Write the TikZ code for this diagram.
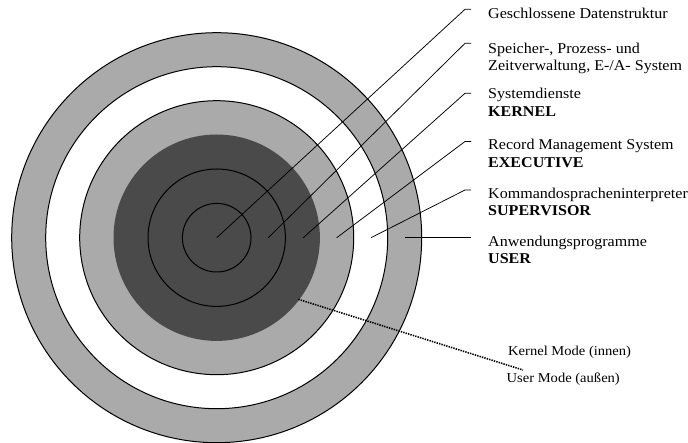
\documentclass[tikz,border=0pt]{standalone}
\usepackage{fontspec}
\setmainfont{Liberation Serif}[FakeStretch=1.07]
\definecolor{ringgray}{RGB}{170,170,170}
\definecolor{coredark}{RGB}{74,74,74}
\begin{document}
\begin{tikzpicture}[x=1pt,y=-1pt,
  ringline/.style={line width=1pt,draw=black},
  leader/.style={line width=0.75pt,draw=black},
  modeline/.style={line width=1.6pt,draw=black,dash pattern=on 1.4pt off 1.1pt},
  lab/.style={anchor=base west,inner sep=0pt,align=left,font=\fontsize{15}{17.5}\selectfont},
  modelab/.style={anchor=base west,inner sep=0pt,font=\fontsize{13.6}{16}\selectfont}]
\useasboundingbox (0,0) rectangle (688,443);
\coordinate (c) at (216.7,237.7);
% rings
\fill[ringgray] (c) circle (205);
\draw[ringline] (c) circle (205);
\fill[white] (c) circle (171);
\draw[ringline] (c) circle (171);
\fill[ringgray] (c) circle (137);
\draw[ringline] (c) circle (137);
\fill[coredark] (c) circle (103.2);
\draw[ringline] (c) circle (68.7);
\draw[ringline] (c) circle (34.3);
% start points of leaders
\coordinate (s1) at (216.7,237.7);
\coordinate (s2) at (268.3,237.7);
\coordinate (s3) at (303.3,237.7);
\coordinate (s4) at (336.7,237.7);
\coordinate (s5) at (371,237.7);
\coordinate (s6) at (405,237.7);
% kinks and ends
\coordinate (k1) at (465,9.3);   \coordinate (e1) at (471,9.3);
\coordinate (k2) at (465,43.3);  \coordinate (e2) at (471,43.3);
\coordinate (k3) at (465,93.3);  \coordinate (e3) at (471,93.3);
\coordinate (k4) at (465,141.5); \coordinate (e4) at (471,141.5);
\coordinate (k5) at (465,190);   \coordinate (e5) at (471,190);
\coordinate (e6) at (471,237.7);
\draw[leader] (s1) -- (k1) -- (e1);
\draw[leader] (s2) -- (k2) -- (e2);
\draw[leader] (s3) -- (k3) -- (e3);
\draw[leader] (s4) -- (k4) -- (e4);
\draw[leader] (s5) -- (k5) -- (e5);
\draw[leader] (s6) -- (e6);
% labels (base anchor = baseline of last line)
\node[lab] (l1) at (488,18.5) {Geschlossene Datenstruktur};
\node[lab] (l2) at (488,70.7) {Speicher-, Prozess- und\\Zeitverwaltung, E-/A- System};
\node[lab] (l3) at (488,116.5) {Systemdienste\\\textbf{KERNEL}};
\node[lab] (l4) at (488,167.5) {Record Management System\\\textbf{EXECUTIVE}};
\node[lab] (l5) at (488,216) {Kommandospracheninterpreter\\\textbf{SUPERVISOR}};
\node[lab] (l6) at (488,264) {Anwendungsprogramme\\\textbf{USER}};
% mode separator
\coordinate (d1) at (298.3,299.3);
\coordinate (d2) at (523,370);
\draw[modeline] (d1) -- (d2);
\node[modelab] (km) at (508,356) {Kernel Mode (innen)};
\node[modelab] (um) at (506.5,383) {User Mode (außen)};
\end{tikzpicture}
\end{document}
